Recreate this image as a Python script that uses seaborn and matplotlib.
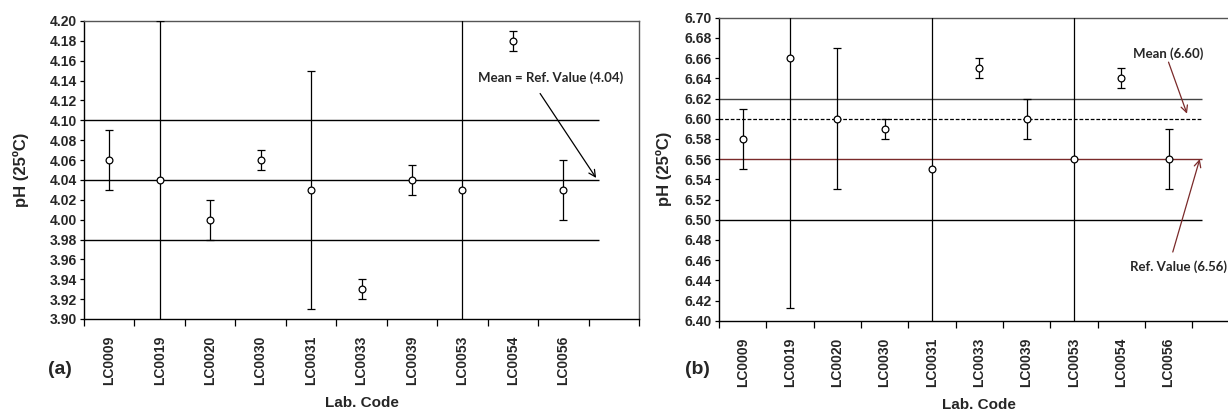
import numpy as np
import pandas as pd
import matplotlib
matplotlib.use("Agg")
import matplotlib.pyplot as plt
import seaborn as sns

sns.set_theme(style="white")
plt.rcParams['font.family'] = ['Liberation Sans', 'DejaVu Sans']

# ---------------- data ----------------
lab_codes = ["LC0009", "LC0019", "LC0020", "LC0030", "LC0031",
             "LC0033", "LC0039", "LC0053", "LC0054", "LC0056"]

ph_a = [4.06, 4.04, 4.00, 4.06, 4.03, 3.93, 4.04, 4.03, 4.18, 4.03]
err_a = [0.03, 0.16, 0.02, 0.01, 0.12, 0.01, 0.015, 0.30, 0.01, 0.03]
limits_a = [3.98, 4.10]
mean_a = 4.04

ph_b = [6.58, 6.66, 6.60, 6.59, 6.55, 6.65, 6.60, 6.56, 6.64, 6.56]
err_b = [0.03, 0.247, 0.07, 0.01, 0.30, 0.01, 0.02, 0.30, 0.01, 0.03]
limits_b = [6.50, 6.62]
mean_b = 6.60
ref_b = 6.56

yticks_a = np.round(np.arange(3.90, 4.2001, 0.02), 2)
yticks_b = np.round(np.arange(6.40, 6.7001, 0.02), 2)

df_a = pd.DataFrame({"code": lab_codes, "ph": ph_a, "err": err_a})
df_b = pd.DataFrame({"code": lab_codes, "ph": ph_b, "err": err_b})

W, H = 1228, 413
fig = plt.figure(figsize=(W / 100, H / 100), dpi=100)

def px_axes(x0, y0, x1, y1):
    return fig.add_axes([x0 / W, 1 - y1 / H, (x1 - x0) / W, (y1 - y0) / H])

ax_a = px_axes(84, 21, 639, 319)
ax_b = px_axes(719, 17.7, 1239.5, 320.7)

DARKRED = "#7a2a2a"
ANN_FONT = ["Lato", "DejaVu Sans"]

def draw_panel(ax, df, yticks, ylim, ylabelpad):
    pos = np.arange(len(df))
    ax.errorbar(pos, df["ph"], yerr=df["err"], fmt="none", ecolor="black",
                elinewidth=0.9, capsize=2.6, capthick=0.9, zorder=3)
    sns.scatterplot(x=pos, y=df["ph"], ax=ax, marker="o", s=24,
                    facecolor="white", edgecolor="black", linewidth=0.9,
                    zorder=4, legend=False)
    ax.set_xlim(-0.5, 10.5)
    ax.set_ylim(*ylim)
    ax.set_yticks(yticks)
    ax.set_yticklabels([f"{v:.2f}" for v in yticks], fontsize=10,
                       fontweight="bold")
    ax.set_xticks(np.arange(-0.5, 11, 1))
    ax.set_xticklabels([])
    ax.set_xticks(pos, minor=True)
    ax.set_xticklabels(lab_codes, minor=True, rotation=90, fontsize=10,
                       fontweight="bold")
    ax.tick_params(axis="x", which="major", direction="out", length=5,
                   width=0.9, color="black", bottom=True)
    ax.tick_params(axis="x", which="minor", length=0, pad=12, bottom=True)
    ax.tick_params(axis="y", direction="out", length=3, width=0.9,
                   color="black", left=True, pad=2)
    for s in ["left", "bottom"]:
        ax.spines[s].set_color("black")
        ax.spines[s].set_linewidth(1.0)
    for s in ["top", "right"]:
        ax.spines[s].set_color("#555555")
        ax.spines[s].set_linewidth(1.0)
    ax.set_ylabel("pH (25ºC)", fontsize=12, fontweight="bold",
                  labelpad=ylabelpad)
    ax.set_xlabel("Lab. Code", fontsize=11, fontweight="bold", labelpad=8)
    ax.grid(False)

draw_panel(ax_a, df_a, yticks_a, (3.90, 4.20), 15)
draw_panel(ax_b, df_b, yticks_b, (6.40, 6.70), 9)

XEND = 9.7
# panel (a) lines
ax_a.hlines(limits_a, -0.5, XEND, colors="black", linewidth=1.0, zorder=2)
ax_a.hlines([mean_a], -0.5, XEND, colors="black", linewidth=1.0, zorder=2)
ax_a.annotate("", xy=(9.65, mean_a + 0.002), xytext=(8.54, 4.127),
              arrowprops=dict(arrowstyle="->", color="black", lw=0.9,
                              mutation_scale=12, shrinkA=0, shrinkB=0))
ax_a.text(8.74, 4.1426, f"Mean = Ref. Value ({mean_a:.2f})", fontsize=9.5,
          fontweight="bold", family=ANN_FONT, ha="center", va="center")

# panel (b) lines
ax_b.hlines(limits_b[1:], -0.5, XEND, colors="#444444", linewidth=1.0, zorder=2)
ax_b.hlines(limits_b[:1], -0.5, XEND, colors="black", linewidth=1.0, zorder=2)
ax_b.hlines([mean_b], -0.5, XEND, colors="black", linewidth=0.9,
            linestyles=(0, (3, 1.5)), zorder=2)
ax_b.hlines([ref_b], -0.5, XEND, colors=DARKRED, linewidth=1.0, zorder=2)
ax_b.annotate("", xy=(9.39, mean_b + 0.005), xytext=(9.0, 6.656),
              arrowprops=dict(arrowstyle="->", color=DARKRED, lw=0.9,
                              mutation_scale=12, shrinkA=0, shrinkB=0))
ax_b.text(9.0, 6.664, f"Mean ({mean_b:.2f})", fontsize=9.5, fontweight="bold",
          family=ANN_FONT, ha="center", va="center")
ax_b.annotate("", xy=(9.66, ref_b), xytext=(9.09, 6.468),
              arrowprops=dict(arrowstyle="->", color=DARKRED, lw=0.9,
                              mutation_scale=12, shrinkA=0, shrinkB=0))
ax_b.text(9.21, 6.4535, f"Ref. Value ({ref_b:.2f})", fontsize=9.5,
          fontweight="bold", family=ANN_FONT, ha="center", va="center")

fig.text(60 / W, 1 - 370 / H, "(a)", fontsize=14, fontweight="bold",
         ha="center", va="center")
fig.text(697 / W, 1 - 370 / H, "(b)", fontsize=14, fontweight="bold",
         ha="center", va="center")

fig.savefig("out.png", dpi=100)
